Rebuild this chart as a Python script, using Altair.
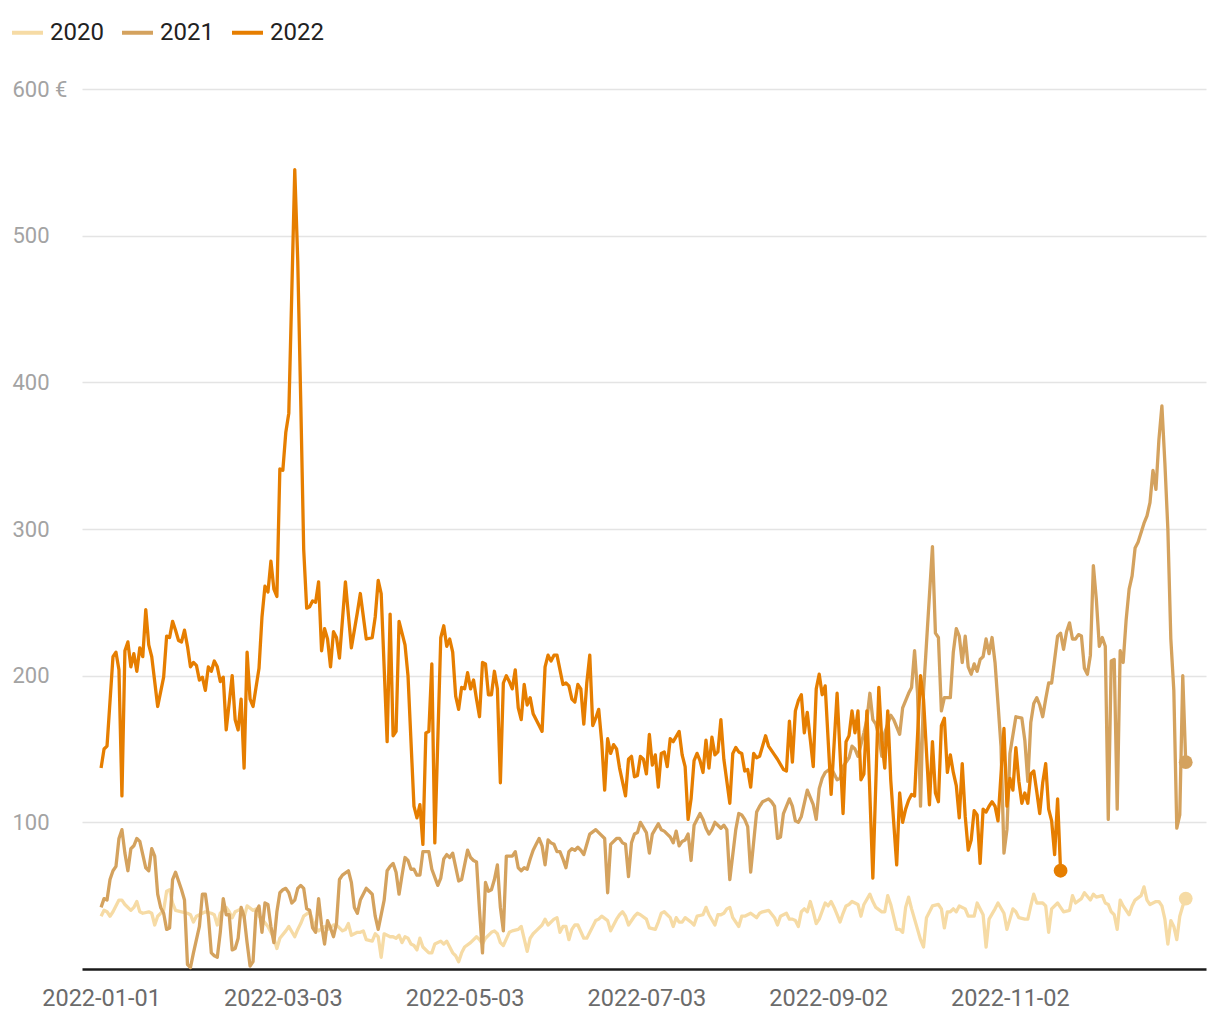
import altair as alt
import pandas as pd

# ---- data (day offset from 1 Jan, value in €) ----
days_2022 = [0,1,2,4,5,6,7,8,9,10,11,12,13,14,15,16,17,19,21,22,23,24,25,26,27,28,29,30,31,32,33,34,35,36,37,38,39,40,41,42,44,45,46,47,48,49,50,51,53,54,55,56,57,58,59,60,61,62,63,64,65,66,67,68,69,70,71,72,73,74,75,76,77,78,79,80,82,84,86,87,89,91,92,93,94,96,97,98,99,100,102,103,105,106,107,108,109,110,111,112,114,115,116,117,118,119,120,121,122,123,124,125,126,127,128,129,130,131,132,133,134,135,136,137,138,139,140,141,142,143,144,145,147,148,149,150,151,152,153,155,156,157,158,159,160,161,162,163,164,165,166,167,168,169,170,171,172,173,174,176,177,178,179,180,181,182,183,184,185,186,187,188,189,190,191,192,194,195,196,197,198,199,200,201,202,203,204,205,206,207,208,209,211,212,213,214,215,216,217,218,219,220,221,223,224,226,227,229,230,231,232,233,234,235,236,237,239,240,241,242,243,245,247,249,250,251,252,253,254,255,256,257,259,261,262,263,264,265,267,268,269,270,271,272,273,275,276,278,279,280,281,282,283,284,285,286,287,288,289,290,291,292,293,294,295,296,297,298,299,300,301,303,304,305,306,307,308,309,310,311,312,313,314,315,316,317,318,319,320,321,322]
vals_2022 = [137,150,152,213,216,204,118,217,223,206,215,203,219,213,245,221,213,179,199,227,226,237,231,224,223,231,220,206,209,207,197,199,190,206,203,210,206,196,199,163,200,170,163,184,137,216,184,179,205,240,261,257,278,259,254,341,340,366,379,461,545,483,388,286,246,247,251,250,264,217,232,225,206,230,226,212,264,219,243,256,225,226,240,265,256,155,242,159,162,237,221,200,111,103,112,85,161,162,208,86,226,234,220,225,216,186,177,192,191,202,191,197,184,172,209,208,187,187,203,191,127,195,200,196,191,204,178,170,194,180,185,174,166,162,206,214,210,214,214,194,195,193,184,182,194,191,167,195,214,166,171,177,155,122,157,147,153,150,137,118,143,145,131,132,145,143,133,160,139,146,124,147,148,138,157,155,162,146,138,102,116,142,147,142,134,156,137,158,146,148,170,143,113,147,151,148,147,135,136,124,147,144,145,159,152,146,143,136,135,169,141,176,183,187,161,175,138,191,201,187,193,119,188,106,155,159,176,161,176,129,133,176,62,192,156,137,176,129,71,120,100,109,115,119,118,200,184,112,155,120,114,166,171,134,146,134,125,103,140,104,81,88,108,105,72,109,107,111,114,111,101,164,111,130,122,151,128,113,120,113,133,135,121,106,127,140,109,101,78,116,67]

days_2021 = [0,1,2,3,4,5,6,7,8,9,10,11,12,13,14,15,16,17,18,19,20,21,22,23,24,25,26,27,28,29,30,31,33,34,35,36,37,38,39,40,41,42,43,44,45,46,47,48,49,50,51,52,53,54,55,56,57,58,59,60,61,62,63,64,65,66,67,68,69,70,71,72,73,74,75,76,77,78,79,80,81,83,84,85,86,87,89,90,91,92,93,95,96,97,98,99,100,101,102,103,104,105,106,107,108,110,111,113,114,115,116,117,118,120,121,123,124,125,126,127,128,129,130,131,132,133,134,135,136,137,138,139,140,141,142,143,144,145,146,147,148,149,150,151,152,153,154,155,156,157,158,159,160,161,162,163,164,166,167,169,170,171,173,174,175,176,177,178,179,180,181,183,184,185,187,188,189,190,191,192,193,194,195,196,197,198,199,201,202,203,204,205,206,207,208,209,210,211,213,214,215,216,217,218,220,221,222,224,225,226,227,228,229,231,232,233,234,235,237,239,240,241,242,243,245,247,248,249,251,252,253,254,256,257,258,259,260,261,262,263,265,266,268,269,271,272,273,274,275,276,277,279,280,281,282,283,285,286,287,288,289,290,291,292,293,294,295,296,297,298,299,300,301,302,303,304,305,307,309,310,311,312,313,314,315,316,317,318,319,321,322,323,324,325,326,327,328,329,330,331,332,333,334,335,336,337,338,339,340,341,342,343,344,345,346,347,348,350,351,352,353,354,355,356,357,358,359,360,361,362,363,364]
vals_2021 = [42,48,47,61,67,70,89,95,79,67,82,84,89,87,78,69,67,82,77,51,42,38,27,28,61,66,60,54,47,3,1,11,29,51,51,36,11,9,8,25,48,37,37,13,14,21,42,36,18,2,5,39,43,25,45,44,29,18,39,52,54,55,52,45,47,55,57,55,41,40,28,25,48,30,17,33,28,22,31,61,64,67,59,42,38,47,55,53,51,36,27,47,67,70,72,66,51,64,76,74,68,68,64,64,80,80,68,57,62,75,78,76,79,60,61,81,76,74,73,40,11,59,53,54,61,71,42,26,77,77,77,80,69,67,69,68,75,81,85,89,84,71,88,86,85,80,80,75,69,80,82,81,83,81,78,85,92,95,93,89,52,85,89,89,86,85,63,86,92,93,100,93,79,92,99,95,94,92,90,86,94,84,87,88,92,74,98,106,102,96,92,95,100,98,96,98,95,61,95,106,105,102,97,66,107,111,114,116,114,111,89,90,106,116,111,101,100,104,122,112,102,123,130,134,137,129,130,138,144,152,150,145,161,170,188,170,167,159,145,161,173,170,160,178,188,192,217,188,111,189,222,288,229,226,176,185,185,216,232,227,209,227,206,201,208,203,211,213,225,215,226,209,181,152,79,95,147,172,171,156,128,168,181,185,180,172,184,195,195,227,229,218,230,236,225,225,228,227,205,201,214,275,252,220,226,220,102,210,211,109,217,209,238,259,268,287,291,304,309,318,340,327,361,384,345,300,225,190,96,105,200,141]

days_2020 = [0,1,2,3,4,6,7,8,10,11,12,13,14,16,17,18,19,21,22,23,24,25,27,29,30,31,32,34,35,37,38,39,40,42,43,44,45,47,48,49,51,52,53,54,56,57,58,59,60,62,63,65,66,67,68,70,71,72,73,75,76,77,78,79,81,82,83,84,86,87,88,89,91,92,93,94,95,97,98,99,100,101,102,103,104,105,106,107,108,110,111,112,114,115,116,118,119,120,121,122,124,126,127,128,129,131,132,133,134,135,137,138,140,141,143,144,145,146,148,149,150,152,153,154,155,156,157,158,159,160,162,163,165,166,167,168,170,171,173,174,175,176,177,179,180,181,183,184,186,187,188,189,190,191,192,193,194,195,196,198,199,200,202,203,204,206,207,208,209,210,211,212,214,215,216,217,218,220,221,222,224,226,227,228,230,231,232,233,234,235,236,237,238,239,240,241,243,244,245,246,247,248,249,250,251,252,254,255,256,258,259,260,262,263,264,265,267,268,269,270,271,272,274,275,276,277,279,281,282,283,284,285,286,287,288,290,291,293,294,296,297,298,300,301,303,304,306,307,308,310,311,312,313,314,316,317,318,319,321,322,323,325,326,327,329,330,332,333,334,336,337,338,339,340,341,342,343,345,346,347,349,350,351,352,354,355,356,357,358,359,360,361,362,363,364]
vals_2020 = [36,40,39,36,39,47,47,44,40,42,46,39,38,39,38,30,36,40,53,54,45,40,39,38,37,32,36,38,39,38,37,30,38,42,39,35,39,41,35,43,40,41,36,34,29,25,21,14,21,26,29,22,27,31,36,39,33,28,26,29,27,28,30,30,26,27,31,23,25,25,26,20,19,24,22,8,24,22,22,21,23,18,22,21,17,16,13,21,15,11,11,17,19,17,19,11,9,5,11,15,18,22,20,17,21,25,26,24,18,16,25,26,27,29,12,21,24,26,30,34,30,34,35,25,29,29,20,27,30,30,21,21,29,33,34,36,33,26,34,37,39,36,30,36,38,37,34,28,27,32,38,39,37,35,29,35,32,32,35,32,30,36,37,42,37,30,37,37,38,41,42,35,29,36,36,37,38,35,38,39,40,35,30,36,38,34,34,33,29,39,41,39,46,39,31,34,45,43,46,42,37,32,38,43,44,46,44,36,44,51,46,42,39,39,50,44,27,27,25,42,49,41,27,20,15,35,43,44,41,28,39,39,41,39,43,41,36,36,45,37,15,34,41,45,38,27,41,39,35,34,34,43,51,45,45,43,25,41,45,42,39,40,50,45,48,52,47,51,49,50,45,44,39,37,27,47,43,37,43,47,50,56,47,44,46,46,43,34,17,33,29,20,36,43,48]

series = ["2020", "2021", "2022"]
colors = ["#f6dba5", "#d4a25e", "#e67e00"]
tick_dates = ["2022-01-01", "2022-03-03", "2022-05-03", "2022-07-03", "2022-09-02", "2022-11-02"]
y_ticks = [100, 200, 300, 400, 500, 600]

base = pd.Timestamp("2022-01-01")
rows = []
for name, ds, vs in [("2020", days_2020, vals_2020), ("2021", days_2021, vals_2021), ("2022", days_2022, vals_2022)]:
    for i, (d, v) in enumerate(zip(ds, vs)):
        rows.append({"year": name,
                     "date": (base + pd.Timedelta(days=d)).strftime("%Y-%m-%d"),
                     "value": v,
                     "last": i == len(ds) - 1})
df = pd.DataFrame(rows)

def ms(ts):
    return int(pd.Timestamp(ts).value // 10**6)

x_domain = [ms(base - pd.Timedelta(hours=6.4 * 24)), ms(base + pd.Timedelta(hours=370.8 * 24))]
x_vals = [ms(t) for t in tick_dates]

x_enc = alt.X("date:T",
              scale=alt.Scale(type="utc", domain=x_domain),
              axis=alt.Axis(values=x_vals, format="%Y-%m-%d", title=None,
                            labelColor="#6b6b6b", labelFontSize=23.5, labelFont="Roboto",
                            labelPadding=17, ticks=False, tickSize=0, grid=False,
                            domainColor="#1a1a1a", domainWidth=2.5))
y_enc = alt.Y("value:Q",
              scale=alt.Scale(domain=[0, 600], nice=False, zero=True),
              axis=alt.Axis(values=y_ticks, title=None, labelAlign="left", labelPadding=70,
                            labelBaseline="middle", labelColor="#a3a3a3", labelFontSize=22,
                            labelFont="Roboto", grid=True, gridColor="#e4e4e4", gridWidth=1.5,
                            domain=False, ticks=False, tickSize=0,
                            labelExpr="datum.value == 600 ? '600 €' : datum.label"))

color_scale = alt.Scale(domain=series, range=colors)

lines = alt.Chart(df).mark_line(strokeWidth=3.3, strokeJoin="round").encode(
    x=x_enc, y=y_enc,
    color=alt.Color("year:N", scale=color_scale,
                    legend=alt.Legend(orient="none", legendX=-72, legendY=-74,
                                      direction="horizontal", title=None,
                                      symbolType="stroke", symbolStrokeWidth=4,
                                      symbolSize=960, labelFontSize=24,
                                      labelFont="Roboto", labelColor="#222222",
                                      labelOffset=5, columnPadding=10, padding=0)),
    order=alt.Order("date:T"),
)

dots = alt.Chart(df).transform_filter("datum.last").mark_circle(size=190, opacity=1).encode(
    x="date:T", y="value:Q",
    color=alt.Color("year:N", scale=color_scale, legend=None),
)

chart = alt.layer(lines, dots).properties(
    width=1124, height=880,
    autosize="none",
    padding={"left": 74, "top": 81, "right": 6, "bottom": 46},
).configure_view(stroke=None)

chart.save("out.html", embed_options={"renderer": "svg", "actions": False})
